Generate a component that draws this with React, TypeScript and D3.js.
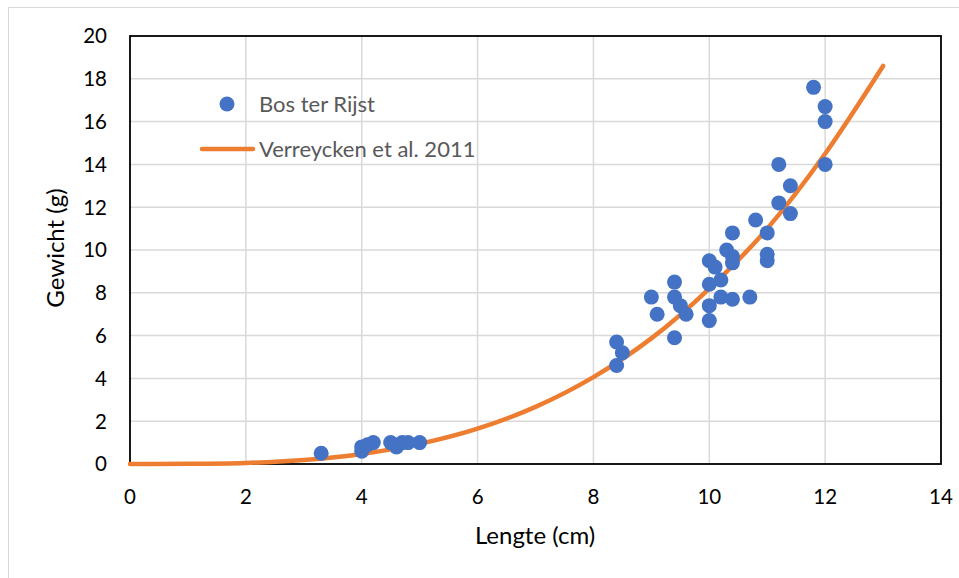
import React from "react";
import * as d3 from "d3";

// Bos ter Rijst measurements: length (cm) and weight (g)
const lengths = [
  3.3, 4.0, 4.0, 4.1, 4.2, 4.5, 4.6, 4.7, 4.8, 5.0,
  8.4, 8.5, 8.4, 9.0, 9.1, 9.4, 9.4, 9.5, 9.6, 9.4,
  10.0, 10.1, 10.0, 10.2, 10.0, 10.0, 10.2, 10.4, 10.7, 10.3,
  10.4, 10.4, 10.4, 10.8, 11.0, 11.0, 11.0, 11.2, 11.8, 12.0,
  12.0, 12.0, 11.2, 11.4, 11.4,
];
const weights = [
  0.5, 0.8, 0.6, 0.9, 1.0, 1.0, 0.8, 1.0, 1.0, 1.0,
  5.7, 5.2, 4.6, 7.8, 7.0, 8.5, 7.8, 7.4, 7.0, 5.9,
  9.5, 9.2, 8.4, 8.6, 7.4, 6.7, 7.8, 7.7, 7.8, 10.0,
  9.7, 9.4, 10.8, 11.4, 10.8, 9.8, 9.5, 12.2, 17.6, 16.7,
  16.0, 14.0, 14.0, 13.0, 11.7,
];

// Verreycken et al. 2011 reference curve, read at whole cm
const curveLengths = [0, 1, 2, 3, 4, 5, 6, 7, 8, 9, 10, 11, 12, 13];
const curveWeights = [0, 0.01, 0.05, 0.19, 0.47, 0.94, 1.65, 2.67, 4.06, 5.87, 8.2, 11.0, 14.5, 18.6];

const xTicks = [0, 2, 4, 6, 8, 10, 12, 14];
const yTicks = [0, 2, 4, 6, 8, 10, 12, 14, 16, 18, 20];

const legendLabels = ["Bos ter Rijst", "Verreycken et al. 2011"];

const W = 959;
const H = 578;
const FONT = "Lato, 'Open Sans', sans-serif";
const BLUE = "#4472C4";
const ORANGE = "#ED7D31";

const App = () => {
  const x = d3.scaleLinear().domain([0, 14]).range([130, 941]);
  const y = d3.scaleLinear().domain([0, 20]).range([464, 36]);

  const line = d3
    .line<number>()
    .x((d, i) => x(curveLengths[i]))
    .y((d) => y(d))
    .curve(d3.curveMonotoneX);

  return (
    <svg width={W} height={H} style={{ position: "absolute", left: 0, top: 0 }}>
      <rect x={0} y={0} width={W} height={H} fill="#fff" />
      <rect x={8.5} y={7.5} width={W + 10} height={H - 4} fill="none" stroke="#d9d9d9" />

      {/* gridlines */}
      {xTicks.slice(1, -1).map((t) => (
        <line key={"gx" + t} x1={x(t)} x2={x(t)} y1={y(0)} y2={y(20)} stroke="#d9d9d9" strokeWidth={1.5} />
      ))}
      {yTicks.slice(1, -1).map((t) => (
        <line key={"gy" + t} x1={x(0)} x2={x(14)} y1={y(t)} y2={y(t)} stroke="#d9d9d9" strokeWidth={1.5} />
      ))}

      {/* plot border */}
      <rect x={x(0)} y={y(20)} width={x(14) - x(0)} height={y(0) - y(20)} fill="none" stroke="#000" strokeWidth={1.8} />

      {/* tick labels */}
      {xTicks.map((t) => (
        <text key={"tx" + t} x={x(t)} y={504} textAnchor="middle" fontFamily={FONT} fontSize={20.5} fill="#000">
          {t}
        </text>
      ))}
      {yTicks.map((t) => (
        <text key={"ty" + t} x={107} y={y(t)} dy="0.36em" textAnchor="end" fontFamily={FONT} fontSize={20.5} fill="#000">
          {t}
        </text>
      ))}

      {/* axis titles */}
      <text x={535} y={544} textAnchor="middle" fontFamily={FONT} fontSize={24} fill="#000">
        Lengte (cm)
      </text>
      <text
        transform={`translate(64,248) rotate(-90)`}
        textAnchor="middle"
        fontFamily={FONT}
        fontSize={24}
        fill="#000"
      >
        Gewicht (g)
      </text>

      {/* curve */}
      <path d={line(curveWeights) || ""} fill="none" stroke={ORANGE} strokeWidth={4.5} strokeLinecap="round" />

      {/* points */}
      {lengths.map((l, i) => (
        <circle key={"p" + i} cx={x(l)} cy={y(weights[i])} r={7.5} fill={BLUE} />
      ))}

      {/* legend */}
      <circle cx={227} cy={104} r={7.5} fill={BLUE} />
      <text x={259} y={104} dy="0.36em" fontFamily={FONT} fontSize={22} fill="#595959">
        {legendLabels[0]}
      </text>
      <line x1={202} x2={253} y1={149} y2={149} stroke={ORANGE} strokeWidth={4.5} strokeLinecap="round" />
      <text x={259} y={149} dy="0.36em" fontFamily={FONT} fontSize={22} fill="#595959">
        {legendLabels[1]}
      </text>
    </svg>
  );
};

export default App;
